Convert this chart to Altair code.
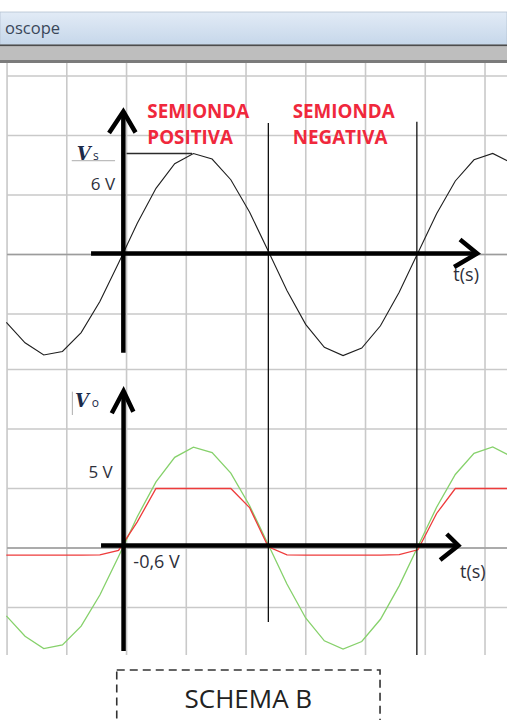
import altair as alt
import pandas as pd

# ---- oscilloscope window geometry (time in ms, height in screen divisions) ----
T_MIN, T_MAX = -8.32, 26.10
D_MIN, D_MAX = -2.891, 9.210
T_DIV = 4.056            # ms per horizontal division
T_GRID0 = -7.841         # first vertical graticule line
GRID_TOP, GRID_BOTTOM = 8.151, -1.798
CH1_ZERO, CH2_ZERO = 4.933, 0.0   # zero level of each channel (div)
CH1_VDIV, CH2_VDIV = 6.0, 5.0     # volts per division

# ---- sampled traces ----
t_ms = [-7.89, -6.62, -5.35, -4.08, -2.81, -1.54, -0.27, 1.00, 2.27, 3.54,
        4.81, 6.08, 7.35, 8.62, 9.89, 11.16, 12.43, 13.70, 14.97, 16.24,
        17.51, 18.78, 20.05, 21.32, 22.59, 23.86, 25.13, 26.40]
# source voltage vs (channel 1)
vs = [-6.85, -8.91, -10.14, -9.78, -7.88, -4.74, -0.86, 3.15, 6.67, 9.15,
      10.18, 9.62, 7.54, 4.28, 0.35, -3.64, -7.05, -9.36, -10.20, -9.44,
      -7.19, -3.81, 0.16, 4.11, 7.41, 9.55, 10.19, 9.23]
# input of circuit B (channel 2, green)
vin = [-5.70, -7.42, -8.45, -8.15, -6.57, -3.95, -0.72, 2.63, 5.56, 7.62,
       8.48, 8.01, 6.29, 3.57, 0.29, -3.03, -5.88, -7.80, -8.50, -7.86,
       -5.99, -3.18, 0.13, 3.42, 6.18, 7.96, 8.49, 7.69]
# clipped output vo (channel 2, red)
vo = [-0.60, -0.60, -0.60, -0.60, -0.60, -0.58, -0.20, 2.20, 5.00, 5.00,
      5.00, 5.00, 5.00, 3.40, 0.10, -0.58, -0.60, -0.60, -0.60, -0.60,
      -0.60, -0.55, -0.15, 2.90, 5.00, 5.00, 5.00, 5.00]

xs = alt.Scale(domain=[T_MIN, T_MAX], nice=False, zero=False)
ys = alt.Scale(domain=[D_MIN, D_MAX], nice=False, zero=False)


def X(f):
    return alt.X(f, type="quantitative", scale=xs, axis=None)


def Y(f):
    return alt.Y(f, type="quantitative", scale=ys, axis=None)


def on_screen(values, zero, vdiv):
    return [zero + v / vdiv for v in values]


# ---- window chrome ----
title_bar = alt.Chart(pd.DataFrame({"t1": [T_MIN], "t2": [T_MAX], "d1": [9.008], "d2": [8.462]})).mark_rect(
    fill=alt.Gradient(gradient="linear", x1=0, y1=0, x2=0, y2=1,
                      stops=[alt.GradientStop(color="#e2ebf6", offset=0),
                             alt.GradientStop(color="#c6d7ea", offset=1)]),
    stroke="#b4c2d2", strokeWidth=0.8,
).encode(x=X("t1"), x2="t2", y=Y("d1"), y2="d2")

bands = pd.DataFrame({
    "t1": [T_MIN] * 3, "t2": [T_MAX] * 3,
    "d1": [8.462, 8.429, 8.202], "d2": [8.429, 8.202, 8.151],
    "c": ["#4d4d4d", "#bebebe", "#7b7b7b"],
})
band_layer = alt.Chart(bands).mark_rect().encode(
    x=X("t1"), x2="t2", y=Y("d1"), y2="d2", color=alt.Color("c:N", scale=None))

title_text = alt.Chart(pd.DataFrame({"t": [-7.977], "d": [8.639], "s": ["oscope"]})).mark_text(
    align="left", baseline="alphabetic", font="Open Sans", fontSize=16.5, color="#3a475a"
).encode(x=X("t"), y=Y("d"), text="s:N")

# ---- graticule ----
grid_t = [T_GRID0 + k * T_DIV for k in range(9)]
grid_d = [CH1_ZERO + k for k in range(-1, 4)] + [CH2_ZERO + k for k in range(-1, 4)]
centre_d = [CH1_ZERO, CH2_ZERO]

vgrid = alt.Chart(pd.DataFrame({"t": grid_t, "d1": [GRID_TOP] * 9, "d2": [GRID_BOTTOM] * 9})).mark_rule(
    color="#c9c9c9", strokeWidth=1.6).encode(x=X("t"), y=Y("d1"), y2="d2")
hgrid = alt.Chart(pd.DataFrame({"d": grid_d, "t1": [T_GRID0] * len(grid_d), "t2": [T_MAX] * len(grid_d)})).mark_rule(
    color="#c9c9c9", strokeWidth=1.6).encode(y=Y("d"), x=X("t1"), x2="t2")
hcentre = alt.Chart(pd.DataFrame({"d": centre_d, "t1": [T_GRID0] * 2, "t2": [T_MAX] * 2})).mark_rule(
    color="#9c9c9c", strokeWidth=1.6).encode(y=Y("d"), x=X("t1"), x2="t2")

# ---- traces ----
tr = pd.DataFrame({
    "t": t_ms,
    "vs": on_screen(vs, CH1_ZERO, CH1_VDIV),
    "vin": on_screen(vin, CH2_ZERO, CH2_VDIV),
    "vo": on_screen(vo, CH2_ZERO, CH2_VDIV),
})
trace_vs = alt.Chart(tr).mark_line(color="#1e1e1e", strokeWidth=1.1).encode(x=X("t"), y=Y("vs"))
trace_vin = alt.Chart(tr).mark_line(color="#86d16b", strokeWidth=1.3).encode(x=X("t"), y=Y("vin"))
trace_vo = alt.Chart(tr).mark_line(color="#ee3b3b", strokeWidth=1.3).encode(x=X("t"), y=Y("vo"))

# ---- hand-drawn axes ----
shafts = pd.DataFrame({
    "t1": [0.054, -2.139, 0.068, -1.46],
    "t2": [0.054, 24.07, 0.068, 22.80],
    "d1": [3.282, 4.950, -1.731, 0.042],
    "d2": [7.336, 4.950, 2.639, 0.042],
})
shaft_layer = alt.Chart(shafts).mark_rule(color="black", strokeWidth=4.5).encode(
    x=X("t1"), x2="t2", y=Y("d1"), y2="d2")

heads = pd.DataFrame({
    "head": ["a"] * 3 + ["b"] * 3 + ["c"] * 3 + ["e"] * 3,
    "i": [0, 1, 2] * 4,
    "t": [-0.917, 0.054, 0.883, 22.91, 24.07, 22.51, -0.733, 0.068, 0.733, 22.01, 22.80, 21.56],
    "d": [6.975, 7.336, 6.983, 5.185, 4.950, 4.723, 2.264, 2.639, 2.291, 0.235, 0.042, -0.202],
})
head_layer = alt.Chart(heads).mark_line(color="black", strokeWidth=4.5, strokeJoin="miter").encode(
    x=X("t"), y=Y("d"), detail="head:N", order="i:Q")

# half-period markers
markers = alt.Chart(pd.DataFrame({"t": [9.898, 19.98], "d1": [7.143, 7.165], "d2": [-1.244, -1.798]})).mark_rule(
    color="#111111", strokeWidth=1.3).encode(x=X("t"), y=Y("d1"), y2="d2")

# peak leader and small guide strokes
leader = alt.Chart(pd.DataFrame({"t1": [0.272], "t2": [4.718], "d": [6.630]})).mark_rule(
    color="#2b2b2b", strokeWidth=1.6).encode(x=X("t1"), x2="t2", y=Y("d"))
guides = alt.Chart(pd.DataFrame({"t1": [-3.449, -3.408], "t2": [-0.509, -3.408],
                                 "d1": [6.509, 2.627], "d2": [6.509, 2.235]})).mark_rule(
    color="#adadad", strokeWidth=1).encode(x=X("t1"), x2="t2", y=Y("d1"), y2="d2")

# ---- labels ----
red_labels = alt.Chart(pd.DataFrame({
    "t": [1.684, 1.684, 11.555, 11.555],
    "d": [7.235, 6.798, 7.235, 6.798],
    "s": ["SEMIONDA", "POSITIVA", "SEMIONDA", "NEGATIVA"],
})).mark_text(align="left", baseline="alphabetic", font="Open Sans", fontWeight="bold",
              fontSize=18.8, color="#f0283c").encode(x=X("t"), y=Y("d"), text="s:N")

right_labels = alt.Chart(pd.DataFrame({"t": [-0.509, -0.665], "d": [6.025, 1.176], "s": ["6 V", "5 V"]})).mark_text(
    align="right", baseline="alphabetic", font="Open Sans", fontSize=17, color="#2e2f3a"
).encode(x=X("t"), y=Y("d"), text="s:N")

left_labels = alt.Chart(pd.DataFrame({
    "t": [0.733, 22.457, 22.912], "d": [-0.336, 4.492, -0.504], "s": ["-0,6 V", "t(s)", "t(s)"],
})).mark_text(align="left", baseline="alphabetic", font="Open Sans", fontSize=18, color="#2e2f3a"
              ).encode(x=X("t"), y=Y("d"), text="s:N")

v_letters = alt.Chart(pd.DataFrame({"t": [-3.109, -3.225], "d": [6.521, 2.370], "s": ["V", "V"]})).mark_text(
    align="left", baseline="alphabetic", font="DejaVu Serif", fontStyle="italic", fontWeight="bold",
    fontSize=18, color="#1c2b4a").encode(x=X("t"), y=Y("d"), text="s:N")
v_subs = alt.Chart(pd.DataFrame({"t": [-2.003, -2.091], "d": [6.521, 2.370], "s": ["s", "o"]})).mark_text(
    align="left", baseline="alphabetic", font="Open Sans", fontSize=12, color="#1c2b4a"
).encode(x=X("t"), y=Y("d"), text="s:N")

# ---- caption ----
caption_box = alt.Chart(pd.DataFrame({"t1": [-0.394], "t2": [17.48], "d1": [-2.050], "d2": [-2.95]})).mark_rect(
    fill="white", stroke="#333333", strokeWidth=1.6, strokeDash=[8, 5]
).encode(x=X("t1"), x2="t2", y=Y("d1"), y2="d2")
caption = alt.Chart(pd.DataFrame({"t": [8.540], "d": [-2.689], "s": ["SCHEMA B"]})).mark_text(
    align="center", baseline="alphabetic", font="Open Sans", fontSize=26, color="#222222"
).encode(x=X("t"), y=Y("d"), text="s:N")

chart = alt.layer(
    title_bar, band_layer, title_text,
    vgrid, hgrid, hcentre,
    trace_vs, trace_vin, trace_vo,
    markers, shaft_layer, head_layer, leader, guides,
    red_labels, right_labels, left_labels, v_letters, v_subs,
    caption_box, caption,
).properties(width=507, height=720, padding=0, autosize="none", background="white"
             ).configure_view(stroke=None)

chart.save("out.html", embed_options={"renderer": "svg", "actions": False})
